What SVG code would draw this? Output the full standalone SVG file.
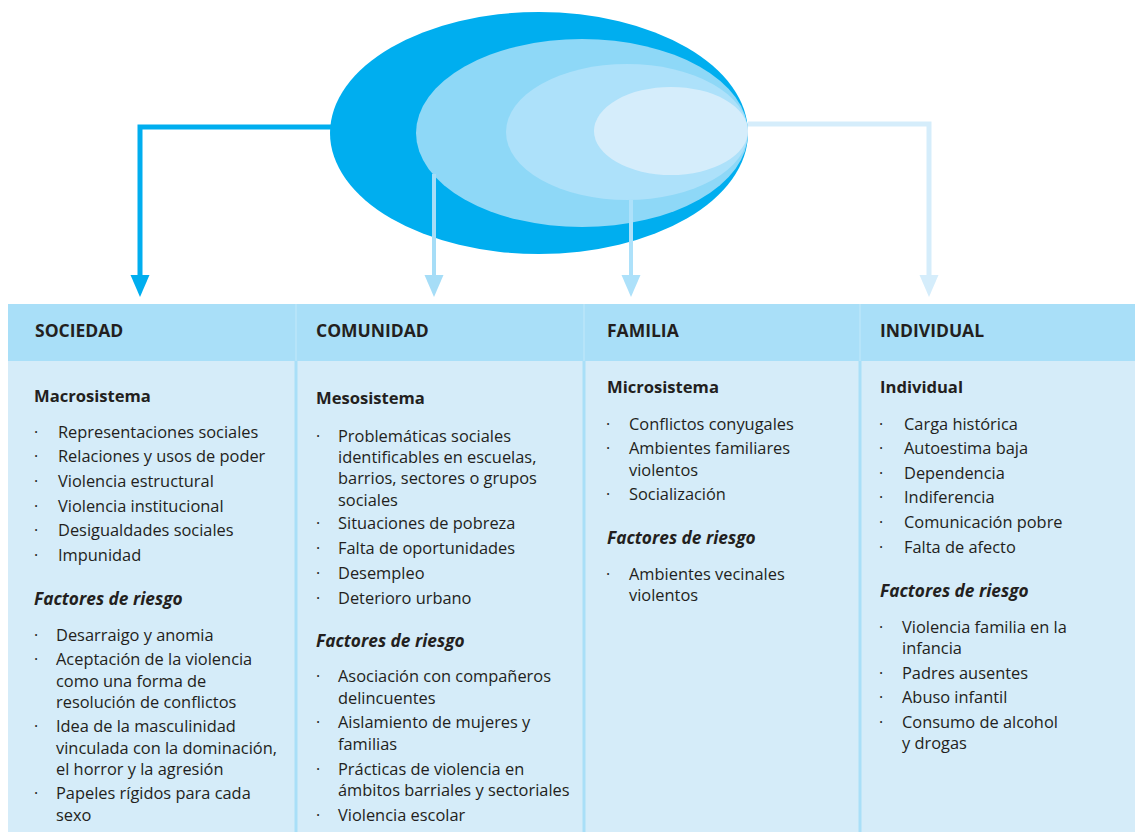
<svg xmlns="http://www.w3.org/2000/svg" width="1135" height="832" viewBox="0 0 1135 832">
<style>
text{font-family:"Open Sans","Noto Sans","DejaVu Sans",sans-serif;fill:#231F20}
.h{font-size:17.5px;font-weight:700}
.s{font-size:16.6px;font-weight:700}
.f{font-size:17.3px;font-weight:700;font-style:italic}
.t{font-size:16.4px}
.b{font-size:16px}
.div{stroke:#A9DFF8;stroke-width:3}
.conn{fill:none}
</style>
<defs>
<marker id="a1" markerUnits="userSpaceOnUse" markerWidth="24" markerHeight="20" refX="1" refY="9.5" orient="auto"><path d="M0,0 L22,9.5 L0,19 Z" fill="#00AEEF"/></marker>
<marker id="a2" markerUnits="userSpaceOnUse" markerWidth="24" markerHeight="20" refX="1" refY="9.5" orient="auto"><path d="M0,0 L22,9.5 L0,19 Z" fill="#A6DDF7"/></marker>
<marker id="a3" markerUnits="userSpaceOnUse" markerWidth="24" markerHeight="20" refX="1" refY="9.5" orient="auto"><path d="M0,0 L22,9.5 L0,19 Z" fill="#ADE1FA"/></marker>
<marker id="a4" markerUnits="userSpaceOnUse" markerWidth="24" markerHeight="20" refX="1" refY="9.5" orient="auto"><path d="M0,0 L22,9.5 L0,19 Z" fill="#D5EDFB"/></marker>
</defs>
<g id="ellipses">
<ellipse cx="539" cy="133" rx="209" ry="121" fill="#00AEEF"/>
<ellipse cx="582" cy="133" rx="166" ry="94" fill="#8ED8F7"/>
<ellipse cx="627" cy="132" rx="121" ry="68" fill="#ADE1FA"/>
<ellipse cx="671" cy="131" rx="77" ry="44" fill="#D5EDFB"/>
</g>
<g id="connectors" class="conn">
<path d="M331,127 H140 V276" stroke="#00AEEF" stroke-width="5" marker-end="url(#a1)"/>
<path d="M434,174 V276" stroke="#A6DDF7" stroke-width="4" marker-end="url(#a2)"/>
<path d="M631,200 V276" stroke="#ADE1FA" stroke-width="4" marker-end="url(#a3)"/>
<path d="M748,124 H929 V276" stroke="#D5EDFB" stroke-width="5" marker-end="url(#a4)"/>
</g>
<g id="table">
<rect x="8" y="304" width="1127" height="57" fill="#A9DFF8"/>
<rect x="8" y="361" width="1127" height="471" fill="#D5ECF9"/>
<line class="div" x1="296" y1="361" x2="296" y2="832"/>
<line class="div" x1="584" y1="361" x2="584" y2="832"/>
<line class="div" x1="860" y1="361" x2="860" y2="832"/>
<line x1="296" y1="304" x2="296" y2="361" stroke="#B6E4F9" stroke-width="2"/>
<line x1="584" y1="304" x2="584" y2="361" stroke="#B6E4F9" stroke-width="2"/>
<line x1="860" y1="304" x2="860" y2="361" stroke="#B6E4F9" stroke-width="2"/>
</g>
<g id="sociedad">
<text class="h" x="35" y="337">SOCIEDAD</text>
<text class="s" x="34" y="402">Macrosistema</text>
<text class="b" x="34" y="438">·</text><text class="t" x="58" y="438">Representaciones sociales</text>
<text class="b" x="34" y="462">·</text><text class="t" x="58" y="462">Relaciones y usos de poder</text>
<text class="b" x="34" y="487">·</text><text class="t" x="58" y="487">Violencia estructural</text>
<text class="b" x="34" y="512">·</text><text class="t" x="58" y="512">Violencia institucional</text>
<text class="b" x="34" y="536">·</text><text class="t" x="58" y="536">Desigualdades sociales</text>
<text class="b" x="34" y="561">·</text><text class="t" x="58" y="561">Impunidad</text>
<text class="f" x="34" y="605">Factores de riesgo</text>
<text class="b" x="34" y="641">·</text><text class="t" x="56" y="641">Desarraigo y anomia</text>
<text class="b" x="34" y="665">·</text><text class="t" x="56" y="665">Aceptación de la violencia</text>
<text class="t" x="56" y="687">como una forma de</text>
<text class="t" x="56" y="708">resolución de conflictos</text>
<text class="b" x="34" y="732">·</text><text class="t" x="56" y="732">Idea de la masculinidad</text>
<text class="t" x="56" y="754">vinculada con la dominación,</text>
<text class="t" x="56" y="775">el horror y la agresión</text>
<text class="b" x="34" y="799">·</text><text class="t" x="56" y="799">Papeles rígidos para cada</text>
<text class="t" x="56" y="821">sexo</text>
</g>
<g id="comunidad">
<text class="h" x="316" y="337">COMUNIDAD</text>
<text class="s" x="316" y="404">Mesosistema</text>
<text class="b" x="316" y="442">·</text><text class="t" x="338" y="442">Problemáticas sociales</text>
<text class="t" x="338" y="463">identificables en escuelas,</text>
<text class="t" x="338" y="484">barrios, sectores o grupos</text>
<text class="t" x="338" y="506">sociales</text>
<text class="b" x="316" y="529">·</text><text class="t" x="338" y="529">Situaciones de pobreza</text>
<text class="b" x="316" y="554">·</text><text class="t" x="338" y="554">Falta de oportunidades</text>
<text class="b" x="316" y="579">·</text><text class="t" x="338" y="579">Desempleo</text>
<text class="b" x="316" y="604">·</text><text class="t" x="338" y="604">Deterioro urbano</text>
<text class="f" x="316" y="647">Factores de riesgo</text>
<text class="b" x="316" y="682">·</text><text class="t" x="338" y="682">Asociación con compañeros</text>
<text class="t" x="338" y="704">delincuentes</text>
<text class="b" x="316" y="728">·</text><text class="t" x="338" y="728">Aislamiento de mujeres y</text>
<text class="t" x="338" y="750">familias</text>
<text class="b" x="316" y="775">·</text><text class="t" x="338" y="775">Prácticas de violencia en</text>
<text class="t" x="338" y="796">ámbitos barriales y sectoriales</text>
<text class="b" x="316" y="821">·</text><text class="t" x="338" y="821">Violencia escolar</text>
</g>
<g id="familia">
<text class="h" x="607" y="337">FAMILIA</text>
<text class="s" x="607" y="393">Microsistema</text>
<text class="b" x="606" y="430">·</text><text class="t" x="629" y="430">Conflictos conyugales</text>
<text class="b" x="606" y="454">·</text><text class="t" x="629" y="454">Ambientes familiares</text>
<text class="t" x="629" y="476">violentos</text>
<text class="b" x="606" y="500">·</text><text class="t" x="629" y="500">Socialización</text>
<text class="f" x="607" y="544">Factores de riesgo</text>
<text class="b" x="606" y="580">·</text><text class="t" x="629" y="580">Ambientes vecinales</text>
<text class="t" x="629" y="601">violentos</text>
</g>
<g id="individual">
<text class="h" x="880" y="337">INDIVIDUAL</text>
<text class="s" x="880" y="393">Individual</text>
<text class="b" x="879" y="430">·</text><text class="t" x="904" y="430">Carga histórica</text>
<text class="b" x="879" y="454">·</text><text class="t" x="904" y="454">Autoestima baja</text>
<text class="b" x="879" y="479">·</text><text class="t" x="904" y="479">Dependencia</text>
<text class="b" x="879" y="503">·</text><text class="t" x="904" y="503">Indiferencia</text>
<text class="b" x="879" y="528">·</text><text class="t" x="904" y="528">Comunicación pobre</text>
<text class="b" x="879" y="553">·</text><text class="t" x="904" y="553">Falta de afecto</text>
<text class="f" x="880" y="597">Factores de riesgo</text>
<text class="b" x="879" y="633">·</text><text class="t" x="902" y="633">Violencia familia en la</text>
<text class="t" x="902" y="654">infancia</text>
<text class="b" x="879" y="679">·</text><text class="t" x="902" y="679">Padres ausentes</text>
<text class="b" x="879" y="703">·</text><text class="t" x="902" y="703">Abuso infantil</text>
<text class="b" x="879" y="728">·</text><text class="t" x="902" y="728">Consumo de alcohol</text>
<text class="t" x="902" y="749">y drogas</text>
</g>
</svg>
